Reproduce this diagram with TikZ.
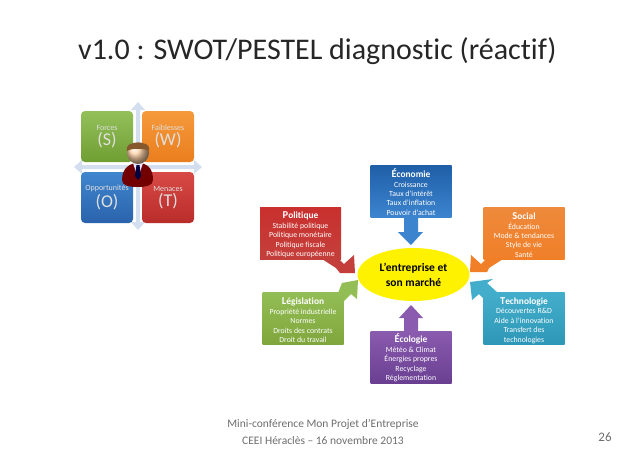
\documentclass[tikz,border=0pt]{standalone}
\usepackage{fontspec}
\setmainfont[Ligatures={NoCommon}]{Carlito}
\usetikzlibrary{shapes.geometric}
\definecolor{ecoT}{HTML}{1F5FA8}\definecolor{ecoB}{HTML}{3C84CE}
\definecolor{polT}{HTML}{C9302E}\definecolor{polB}{HTML}{C43F3B}
\definecolor{socT}{HTML}{EE8A3C}\definecolor{socB}{HTML}{F07F28}
\definecolor{legT}{HTML}{93BE55}\definecolor{legB}{HTML}{7FA63C}
\definecolor{tecT}{HTML}{43AECB}\definecolor{tecB}{HTML}{2E97B8}
\definecolor{ecolT}{HTML}{8A5BAE}\definecolor{ecolB}{HTML}{6A3F92}
\definecolor{crossc}{HTML}{D3DEEE}
\definecolor{footc}{HTML}{6E6E6E}
\definecolor{sT}{HTML}{94C05A}\definecolor{sB}{HTML}{6F9E33}
\definecolor{wT}{HTML}{F59A3C}\definecolor{wB}{HTML}{EA7E1E}
\definecolor{oT}{HTML}{3F86CE}\definecolor{oB}{HTML}{2A63AC}
\definecolor{tT}{HTML}{D84A45}\definecolor{tB}{HTML}{B82C2A}
\tikzset{
  x=1pt,y=-1pt,
  pestbox/.style={minimum width=81pt,minimum height=52pt,inner sep=0pt,text=white,align=center,font=\fontsize{7.8}{9.4}\selectfont,anchor=center},
  swotbox/.style={rounded corners=4pt,minimum width=52pt,minimum height=51pt,inner sep=0pt,text=white!88!black,align=center,anchor=center},
  blockarrow/.style={draw=none},
}
\newcommand{\ttl}[2]{\rule{0pt}{10.5pt}{\fontsize{10.5}{9.4}\selectfont\bfseries #1}{\fontsize{9.4}{9.4}\selectfont\bfseries #2}\\[.5pt]}
\newcommand{\swt}[2]{{\fontsize{8}{9}\selectfont #1}\\[1pt]{\fontsize{18}{15}\selectfont #2}}
\begin{document}
\begin{tikzpicture}
\useasboundingbox (0,0) rectangle (638,451);
\fill[white] (0,0) rectangle (638,451);
% title
\node[anchor=base west,inner sep=0pt,font=\fontsize{30}{34}\selectfont,text=black!85] (title) at (78,59.5) {v1.0 : SWOT/PESTEL diagnostic (réactif)};
% SWOT cross
\fill[crossc] (136,110) -- (131,110) -- (138,102) -- (145,110) -- (140,110) -- (140,222) -- (145,222) -- (138,230) -- (131,222) -- (136,222) -- cycle;
\fill[crossc] (82,165) -- (82,160) -- (74,167) -- (82,174) -- (82,169) -- (194,169) -- (194,174) -- (202,167) -- (194,160) -- (194,165) -- cycle;
% SWOT boxes
\node[swotbox,top color=sT,bottom color=sB] (S) at (107,136.5) {\swt{Forces}{(S)}};
\node[swotbox,top color=wT,bottom color=wB] (W) at (168,136.5) {\swt{Faiblesses}{(W)}};
\node[swotbox,top color=oT,bottom color=oB] (O) at (107,197.5) {\swt{Opportunités}{(O)}};
\node[swotbox,top color=tT,bottom color=tB] (T) at (168,197.5) {\swt{Menaces}{(T)}};
% person
\fill[red!45!black] (122,180) .. controls (122,168) and (130,163) .. (138,163) .. controls (147,163) and (153,168) .. (153,180) .. controls (153,186) and (145,187) .. (138,187) .. controls (130,187) and (122,186) .. (122,180) -- cycle;
\fill[white!90!blue] (133,163) -- (143,163) -- (138,178) -- cycle;
\fill[blue!25!black] (136.5,165) -- (139.5,165) -- (141,176) -- (138,180) -- (135,176) -- cycle;
\shade[ball color=orange!35!white] (138,153) circle (11);
\fill[brown!70!black] (127,151) .. controls (126,143) and (132,143) .. (138,143) .. controls (144,143) and (150,143) .. (149,151) .. controls (145,148) and (131,148) .. (127,151) -- cycle;
% block arrows
\fill[ecoB,blockarrow] (404,217) -- (418,217) -- (418,232) -- (423,232) -- (411,245) -- (398,232) -- (404,232) -- cycle;
\fill[polB,blockarrow] (322,259) -- (339,259) -- (344,264) -- (354,255) -- (355,273) -- (340,273) -- (336,268) -- cycle;
\fill[socB,blockarrow] (503,259) -- (486,259) -- (481,264) -- (471,255) -- (470,272) -- (487,272) -- (489,268) -- cycle;
\fill[legT,blockarrow] (323,293) -- (338,293) -- (342,283) -- (358,280) -- (357,299) -- (351,294) -- (343,302) -- (343,300) -- cycle;
\fill[tecT,blockarrow] (498,293) -- (487,283) -- (493,279) -- (470,282) -- (472,300) -- (479,294) -- (484,299) -- cycle;
\fill[ecolT,blockarrow] (404,331) -- (418,331) -- (418,318) -- (423,318) -- (411,305) -- (399,318) -- (404,318) -- cycle;
% PESTEL boxes
\node[pestbox,top color=ecoT,bottom color=ecoB] (eco) at (411,191) {\ttl{É}{conomie}Croissance\\Taux d’intérêt\\Taux d’inflation\\Pouvoir d’achat};
\node[pestbox,top color=polT,bottom color=polB] (pol) at (300.5,233) {\ttl{P}{olitique}Stabilité politique\\Politique monétaire\\Politique fiscale\\Politique européenne};
\node[pestbox,top color=socT,bottom color=socB] (soc) at (524,233) {\ttl{S}{ocial}Éducation\\Mode \& tendances\\Style de vie\\Santé};
\node[pestbox,top color=legT,bottom color=legB] (leg) at (303,318.5) {\ttl{L}{égislation}Propriété industrielle\\Normes\\Droits des contrats\\Droit du travail};
\node[pestbox,top color=tecT,bottom color=tecB] (tec) at (524,318.5) {\ttl{T}{echnologie}Découvertes R\&D\\Aide à l’innovation\\Transfert des\\technologies};
\node[pestbox,top color=ecolT,bottom color=ecolB] (ecol) at (411,357) {\ttl{É}{cologie}Météo \& Climat\\Énergies propres\\Recyclage\\Réglementation};
% centre
\node[ellipse,fill=yellow,minimum width=112pt,minimum height=53pt,inner sep=0pt,align=center,font=\fontsize{11.5}{15}\selectfont\bfseries,text=black] (market) at (413.5,274.5) {L’entreprise et\\son marché};
% footer
\node[inner sep=0pt,align=center,font=\fontsize{11.5}{16.5}\selectfont,text=footc] (foot) at (323,432) {Mini-conférence Mon Projet d’Entreprise\\CEEI Héraclès – 16 novembre 2013};
\node[inner sep=0pt,font=\fontsize{13}{14}\selectfont,text=footc] (num) at (605,437) {26};
\end{tikzpicture}
\end{document}
